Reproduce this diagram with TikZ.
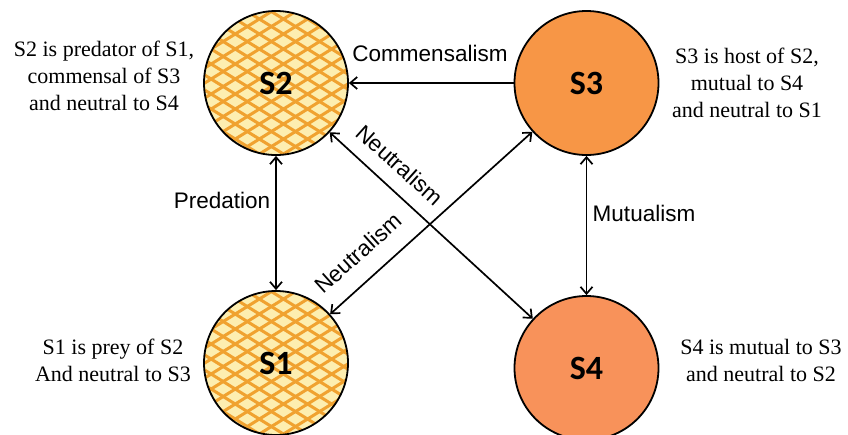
\documentclass[tikz,border=0pt]{standalone}
\usepackage{fontspec}
\setmainfont{Liberation Serif}
\setsansfont{Liberation Sans}
\newfontfamily\calfont{Carlito}
\usetikzlibrary{arrows.meta}
\definecolor{orA}{RGB}{247,150,70}
\definecolor{orB}{RGB}{248,146,90}
\definecolor{latfill}{RGB}{253,238,176}
\definecolor{latline}{RGB}{240,162,48}
\begin{document}
\begin{tikzpicture}[x=1pt,y=-1pt,
  sp/.style={circle,draw=black,line width=1.8pt,minimum size=144pt,inner sep=0pt,
    font=\calfont\bfseries\fontsize{34}{40}\selectfont},
  lattice/.style={sp,fill=latfill,path picture={
    \begin{scope}[shift={(path picture bounding box.center)}]
      \foreach \k in {-16,...,16}{
        \draw[latline,line width=3pt] (-90,\k*15-56) -- (90,\k*15+56);
        \draw[latline,line width=3pt] (-90,\k*15+56) -- (90,\k*15-56);}
    \end{scope}}},
  desc/.style={align=center,font=\fontsize{22}{27}\selectfont,inner sep=0pt},
  rel/.style={font=\sffamily\fontsize{22.5}{26}\selectfont,inner sep=0pt},
  arr/.style={line width=1.7pt,>={Straight Barb[length=7pt,width=12pt]}}
]
\useasboundingbox[fill=white] (0,0) rectangle (848,434);
\node[lattice] (S2) at (276,83) {S2};
\node[sp,fill=orA] (S3) at (586.5,83) {S3};
\node[lattice] (S1) at (276,363) {S1};
\node[sp,fill=orB] (S4) at (586.5,368) {S4};

\draw[arr,->] (S3) -- (S2);
\draw[arr,<->] (S2) -- (S1);
\draw[arr,<->] (S3) -- (S4);
\draw[arr,<->] (S2) -- (S4);
\draw[arr,<->] (S1) -- (S3);

\node[rel] (lc) at (430,53) {Commensalism};
\node[rel] (lp) at (222,200) {Predation};
\node[rel] (lm) at (644,213) {Mutualism};
\node[rel,rotate=-42] (ln1) at (400,165) {Neutralism};
\node[rel,rotate=42] (ln2) at (358,253) {Neutralism};

\node[desc] (t2) at (104,76) {S2 is predator of S1,\\commensal of S3\\and neutral to S4};
\node[desc] (t3) at (747,83) {S3 is host of S2,\\mutual to S4\\and neutral to S1};
\node[desc] (t1) at (113,360) {S1 is prey of S2\\And neutral to S3};
\node[desc] (t4) at (761,360) {S4 is mutual to S3\\and neutral to S2};
\end{tikzpicture}
\end{document}
